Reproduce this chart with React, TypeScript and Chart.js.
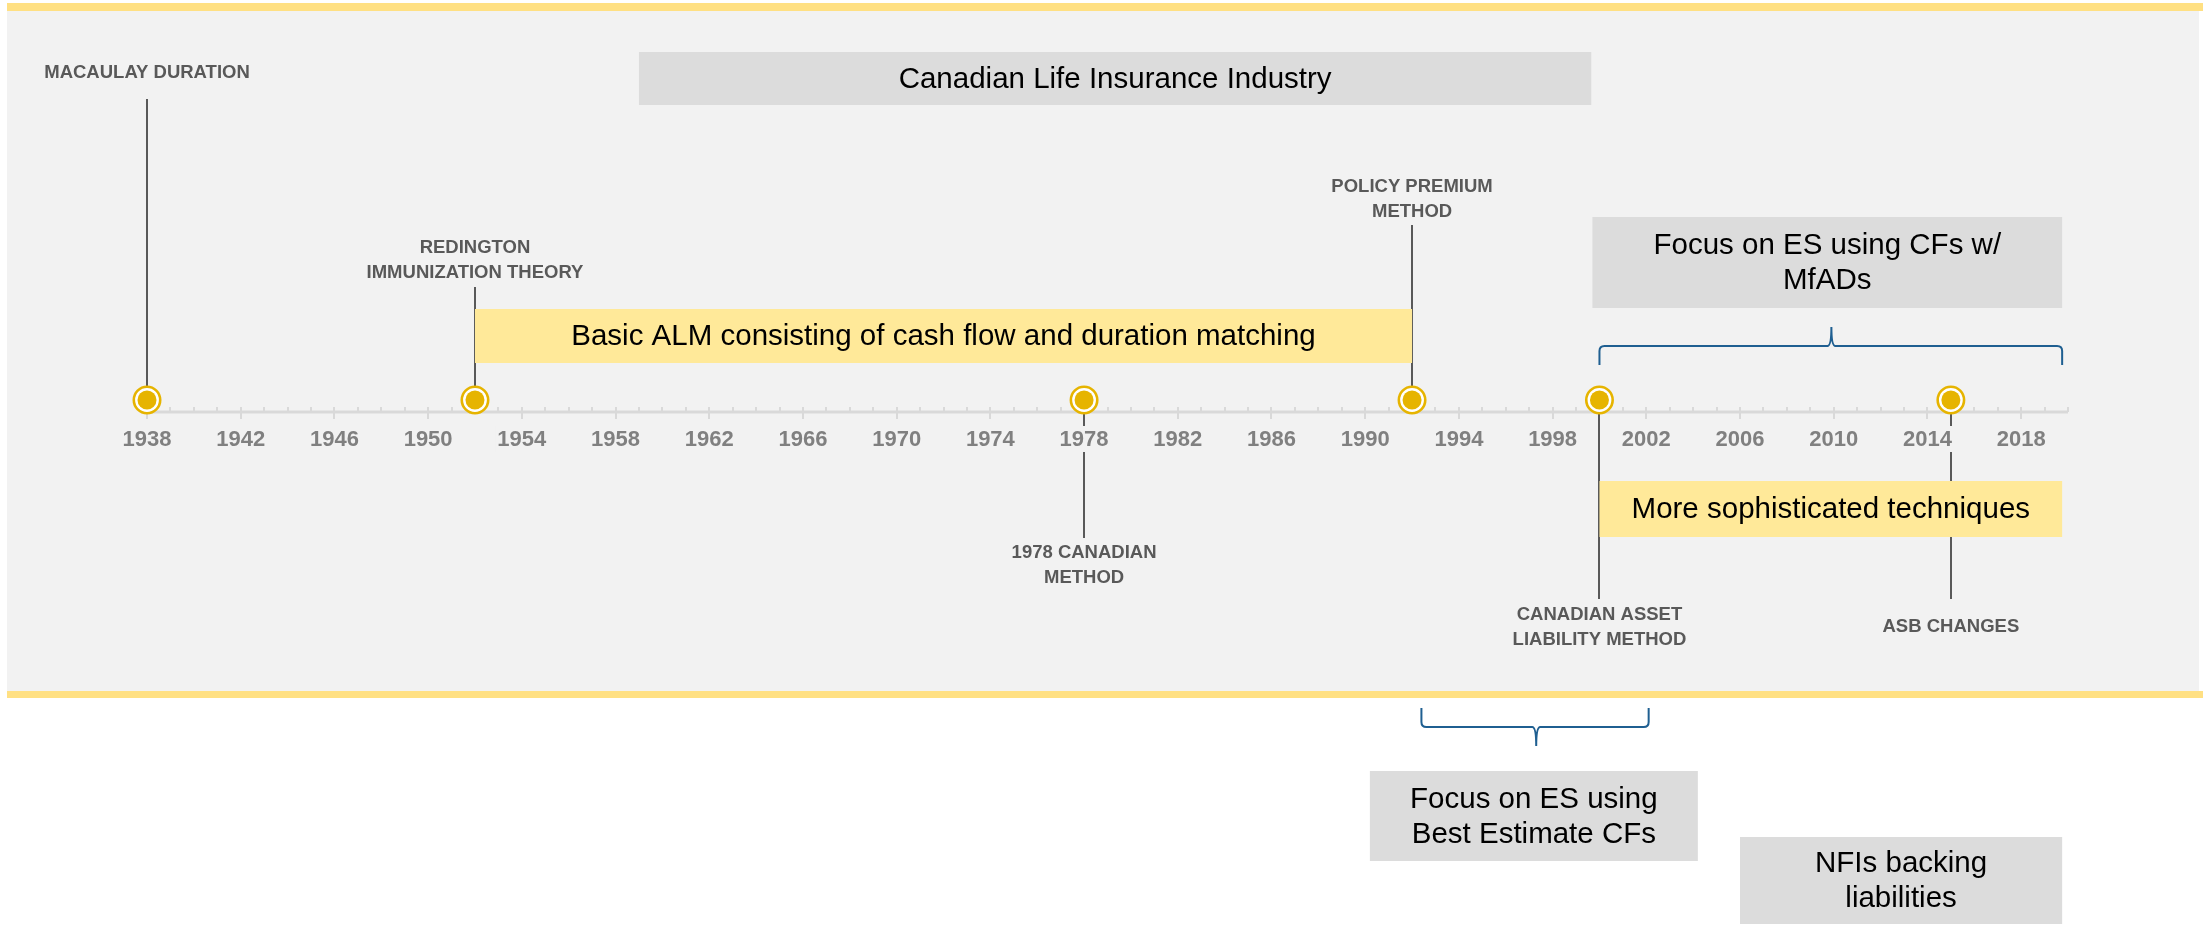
import React, { useEffect, useRef } from 'react';
import { Chart, registerables } from 'chart.js';

Chart.register(...registerables);

// ---------- data ----------
const YEAR_MIN = 1938;
const YEAR_MAX = 2020;
const TICK_YEARS = [1938, 1942, 1946, 1950, 1954, 1958, 1962, 1966, 1970, 1974, 1978, 1982, 1986, 1990, 1994, 1998, 2002, 2006, 2010, 2014, 2018];

const EVENT_YEARS = [1938, 1952, 1978, 1992, 2000, 2015];
const EVENT_LABELS = [
  ['MACAULAY DURATION'],
  ['REDINGTON', 'IMMUNIZATION THEORY'],
  ['1978 CANADIAN', 'METHOD'],
  ['POLICY PREMIUM', 'METHOD'],
  ['CANADIAN ASSET', 'LIABILITY METHOD'],
  ['ASB CHANGES'],
];

const SPAN_STARTS = [1959, 1952, 1999.7, 2000, 1990.2, 2006];
const SPAN_ENDS = [1999.65, 1992, 2019.75, 2019.75, 2004.2, 2019.75];
const SPAN_TEXTS = [
  ['Canadian Life Insurance Industry'],
  ['Basic ALM consisting of cash flow and duration matching'],
  ['Focus on ES using CFs w/', 'MfADs'],
  ['More sophisticated techniques'],
  ['Focus on ES using', 'Best Estimate CFs'],
  ['NFIs backing', 'liabilities'],
];
const SPAN_KINDS = ['gray', 'yellow', 'gray', 'yellow', 'gray', 'gray'];

const BRACE_STARTS = [2000, 1992.4];
const BRACE_ENDS = [2019.75, 2002.1];
const BRACE_TIPS = [2009.9, 1997.3];

// ---------- layout (vertical positions in the y-scale's pixel-like units) ----------
const W = 2203;
const H = 926;
const X_LEFT = 147;
const X_RIGHT = 2068;
const PANEL = { left: 7, right: 2199, top: 11, bottom: 691 };
const TOP_BAND = [3, 11];
const BOTTOM_BAND = [691, 698];
const AXIS_Y = 412;
const MARKER_Y = 400;
const TICK_LABEL_Y = 440;
const TICK_LABEL_BG = [426, 452];
const SPAN_ROWS = [[52, 105], [309, 363], [217, 308], [481, 537], [771, 861], [837, 924]];
const BRACE_ROWS = [[365, 346, 327], [708, 727, 746]];
const EVENT_LINES = [[99, 400], [287, 400], [412, 538], [225, 400], [412, 599], [412, 599]];
const EVENT_TEXT_Y = [73, 248, 553, 187, 615, 627];

// ---------- styles ----------
const COLORS = {
  panel: '#F2F2F2',
  band: '#FFE083',
  gray: '#DCDCDC',
  yellow: '#FFE999',
  marker: '#E6B400',
  line: '#595959',
  label: '#595959',
  tick: '#808080',
  axis: '#D9D9D9',
  brace: '#1F5F91',
};
const FONT = '"Liberation Sans", Arial, sans-serif';

const timelinePlugin = {
  id: 'timeline',
  beforeDatasetsDraw(chart: any) {
    const { ctx } = chart;
    const xs = chart.scales.x;
    const ys = chart.scales.y;
    const X = (v: number) => xs.getPixelForValue(v);
    const Y = (v: number) => ys.getPixelForValue(v);
    ctx.save();

    // background
    ctx.fillStyle = '#FFFFFF';
    ctx.fillRect(0, 0, W, H);
    ctx.fillStyle = COLORS.panel;
    ctx.fillRect(PANEL.left, Y(PANEL.top), PANEL.right - PANEL.left, Y(PANEL.bottom) - Y(PANEL.top));
    ctx.fillStyle = COLORS.band;
    ctx.fillRect(PANEL.left, Y(TOP_BAND[0]), W - PANEL.left, Y(TOP_BAND[1]) - Y(TOP_BAND[0]));
    ctx.fillRect(PANEL.left, Y(BOTTOM_BAND[0]), W - PANEL.left, Y(BOTTOM_BAND[1]) - Y(BOTTOM_BAND[0]));

    // axis line
    ctx.strokeStyle = COLORS.axis;
    ctx.lineWidth = 3;
    ctx.beginPath();
    ctx.moveTo(X(YEAR_MIN), Y(AXIS_Y));
    ctx.lineTo(X(YEAR_MAX), Y(AXIS_Y));
    ctx.stroke();

    // ticks (every year, major every 4)
    ctx.lineWidth = 2;
    for (let yr = YEAR_MIN; yr <= YEAR_MAX; yr++) {
      const major = TICK_YEARS.includes(yr);
      const px = Math.round(X(yr));
      ctx.beginPath();
      ctx.moveTo(px, Y(AXIS_Y - 5));
      ctx.lineTo(px, Y(major ? AXIS_Y + 7 : AXIS_Y));
      ctx.stroke();
    }

    // event connector lines
    ctx.strokeStyle = COLORS.line;
    ctx.lineWidth = 2;
    EVENT_YEARS.forEach((yr, i) => {
      const px = Math.round(X(yr));
      ctx.beginPath();
      ctx.moveTo(px, Y(EVENT_LINES[i][0]));
      ctx.lineTo(px, Y(EVENT_LINES[i][1]));
      ctx.stroke();
    });

    // tick labels (with panel-coloured background)
    ctx.font = `bold 22px ${FONT}`;
    ctx.textAlign = 'center';
    ctx.textBaseline = 'middle';
    TICK_YEARS.forEach((yr) => {
      const label = String(yr);
      const w = ctx.measureText(label).width;
      const px = X(yr);
      ctx.fillStyle = COLORS.panel;
      ctx.fillRect(px - w / 2 - 2, Y(TICK_LABEL_BG[0]), w + 4, Y(TICK_LABEL_BG[1]) - Y(TICK_LABEL_BG[0]));
      ctx.fillStyle = COLORS.tick;
      ctx.fillText(label, px, Y(TICK_LABEL_Y));
    });

    // event labels
    ctx.font = `bold 18.5px ${FONT}`;
    ctx.fillStyle = COLORS.label;
    EVENT_YEARS.forEach((yr, i) => {
      EVENT_LABELS[i].forEach((t, j) => {
        ctx.fillText(t, X(yr), Y(EVENT_TEXT_Y[i] + j * 24.5));
      });
    });

    // span boxes
    SPAN_STARTS.forEach((s, i) => {
      const x0 = X(s);
      const x1 = X(SPAN_ENDS[i]);
      const y0 = Y(SPAN_ROWS[i][0]);
      const y1 = Y(SPAN_ROWS[i][1]);
      ctx.fillStyle = SPAN_KINDS[i] === 'yellow' ? COLORS.yellow : COLORS.gray;
      ctx.fillRect(x0, y0, x1 - x0, y1 - y0);
      ctx.fillStyle = '#000000';
      ctx.font = `29.5px ${FONT}`;
      const lines = SPAN_TEXTS[i];
      const lh = 35;
      const cy = (y0 + y1) / 2;
      lines.forEach((t, j) => {
        ctx.fillText(t, (x0 + x1) / 2, cy + (j - (lines.length - 1) / 2) * lh + 1);
      });
    });

    // braces
    ctx.strokeStyle = COLORS.brace;
    ctx.lineWidth = 2;
    BRACE_STARTS.forEach((s, i) => {
      const xa = X(s);
      const xb = X(BRACE_ENDS[i]);
      const xm = X(BRACE_TIPS[i]);
      const yEnd = Y(BRACE_ROWS[i][0]);
      const yH = Y(BRACE_ROWS[i][1]);
      const yTip = Y(BRACE_ROWS[i][2]);
      const dir = yH > yEnd ? 1 : -1;
      const r = 5;
      ctx.beginPath();
      ctx.moveTo(xa, yEnd);
      ctx.lineTo(xa, yH - dir * r);
      ctx.quadraticCurveTo(xa, yH, xa + r, yH);
      ctx.lineTo(xm - 4, yH);
      ctx.quadraticCurveTo(xm, yH, xm, yTip);
      ctx.quadraticCurveTo(xm, yH, xm + 4, yH);
      ctx.lineTo(xb - r, yH);
      ctx.quadraticCurveTo(xb, yH, xb, yH - dir * r);
      ctx.lineTo(xb, yEnd);
      ctx.stroke();
    });

    ctx.restore();
  },
};

export default function App() {
  const canvasRef = useRef<HTMLCanvasElement | null>(null);

  useEffect(() => {
    if (!canvasRef.current) return;
    const points = EVENT_YEARS.map((x) => ({ x, y: MARKER_Y }));
    const chart = new Chart(canvasRef.current, {
      type: 'scatter',
      data: {
        datasets: [
          {
            label: 'dot',
            data: points,
            pointRadius: 9.5,
            pointBackgroundColor: COLORS.marker,
            pointBorderWidth: 0,
            order: 0,
            clip: false,
          } as any,
          {
            label: 'ring',
            data: points,
            pointRadius: 13.2,
            pointBackgroundColor: '#FFFFFF',
            pointBorderColor: COLORS.marker,
            pointBorderWidth: 2.6,
            order: 1,
            clip: false,
          } as any,
        ],
      },
      options: {
        responsive: false,
        animation: false,
        events: [],
        layout: { autoPadding: false, padding: { left: X_LEFT, right: W - X_RIGHT, top: 0, bottom: 0 } },
        scales: {
          x: { type: 'linear', min: YEAR_MIN, max: YEAR_MAX, display: false },
          y: { type: 'linear', min: 0, max: H, reverse: true, display: false },
        },
        plugins: { legend: { display: false }, tooltip: { enabled: false } },
      },
      plugins: [timelinePlugin],
    });
    return () => chart.destroy();
  }, []);

  return (
    <div style={{ position: 'fixed', left: 0, top: 0, width: W, height: H }}>
      <canvas ref={canvasRef} width={W} height={H} style={{ width: W, height: H, display: 'block' }} />
    </div>
  );
}
